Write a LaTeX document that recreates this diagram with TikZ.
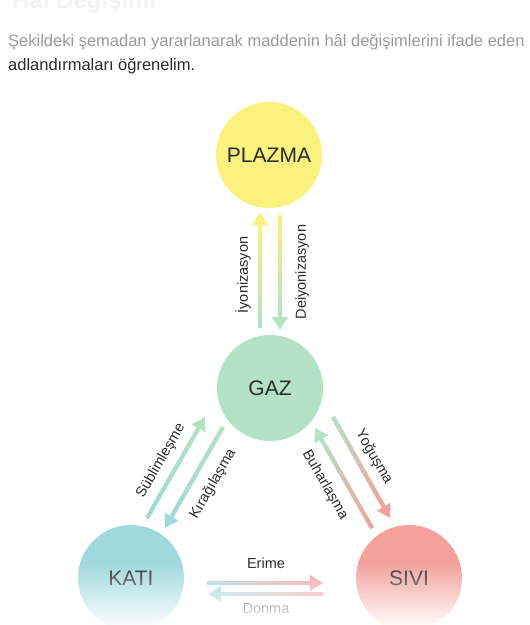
\documentclass[tikz,border=0pt]{standalone}
\usepackage{fontspec}
\setmainfont{Liberation Sans}
\usetikzlibrary{arrows.meta,calc,fadings}
\definecolor{cplz}{HTML}{FAF27C}
\definecolor{cgaz}{HTML}{B3E2C5}
\definecolor{ckat}{HTML}{9FD9DC}
\definecolor{csiv}{HTML}{F4A19B}
\definecolor{txt}{HTML}{2B2B2B}
\definecolor{lightg}{HTML}{9A9A9A}
\definecolor{titleg}{HTML}{F3F3F3}
\tikzfading[name=botfade, top color=transparent!100, bottom color=transparent!0]
\tikzset{
  state/.style={circle, inner sep=0pt, minimum size=106pt, text=txt,
    font=\fontsize{21}{24}\selectfont},
  lbl/.style={inner sep=0pt, text=txt, font=\fontsize{14.5}{16}\selectfont},
  para/.style={inner sep=0pt, anchor=base west, font=\fontsize{16.5}{24}\selectfont}
}
\newcommand\gradarrow[4]{%
  \draw[line width=4pt, #4, -{Triangle[length=13pt,width=15pt]}] (#1) -- (#2);
  \coordinate (gabase) at ($(#2)!13pt!(#1)$);
  \foreach \k in {0,...,29}{%
    \pgfmathsetmacro\ta{\k/30}%
    \pgfmathsetmacro\tb{min(1,(\k+1.4)/30)}%
    \pgfmathsetmacro\pp{100*(\k+0.5)/30}%
    \draw[line width=4pt, color=#4!\pp!#3] ($(#1)!\ta!(gabase)$) -- ($(#1)!\tb!(gabase)$);
  }%
}
\begin{document}
\begin{tikzpicture}[x=1pt,y=-1pt]
\useasboundingbox (0,0) rectangle (530,625);
\fill[white] (0,0) rectangle (530,625);
% texts
\node[para, font=\bfseries\fontsize{24}{28}\selectfont, text=titleg] (title) at (12,8) {Hâl Değişimi};
\node[para, text=lightg] (p1) at (8,46) {Şekildeki şemadan yararlanarak maddenin hâl değişimlerini ifade eden};
\node[para, text=txt] (p2) at (8,70) {adlandırmaları öğrenelim.};
% states
\node[state, fill=cplz] (plazma) at (269,155) {PLAZMA};
\node[state, fill=cgaz] (gaz) at (270,388) {GAZ};
\node[state, fill=ckat] (kati) at (131,578) {KATI};
\node[state, fill=csiv] (sivi) at (409,578) {SIVI};
% arrow end points
\coordinate (iyA) at (260,328); \coordinate (iyB) at (260,212);
\coordinate (deA) at (280,215); \coordinate (deB) at (280,330);
\coordinate (suA) at (147,518); \coordinate (suB) at (205,417);
\coordinate (kiA) at (223,427); \coordinate (kiB) at (165,528);
\coordinate (buA) at (372,528); \coordinate (buB) at (315,428);
\coordinate (yoA) at (333,417); \coordinate (yoB) at (390,518);
\coordinate (erA) at (207,583); \coordinate (erB) at (323,583);
\coordinate (doA) at (323,594); \coordinate (doB) at (208,594);
\gradarrow{iyA}{iyB}{cgaz}{cplz}
\gradarrow{deA}{deB}{cplz}{cgaz}
\gradarrow{suA}{suB}{ckat}{cgaz}
\gradarrow{kiA}{kiB}{cgaz}{ckat}
\gradarrow{buA}{buB}{csiv}{cgaz}
\gradarrow{yoA}{yoB}{cgaz}{csiv}
\gradarrow{erA}{erB}{ckat}{csiv}
\gradarrow{doA}{doB}{csiv}{ckat}
% labels
\node[lbl, rotate=90] (liy) at (243,275) {İyonizasyon};
\node[lbl, rotate=90] (lde) at (302,272) {Deiyonizasyon};
\node[lbl, rotate=60] (lsu) at (161,461) {Süblimleşme};
\node[lbl, rotate=60] (lki) at (213,484) {Kırağılaşma};
\node[lbl, rotate=-60] (lyo) at (374,457) {Yoğuşma};
\node[lbl, rotate=-60] (lbu) at (325,485) {Buharlaşma};
\node[lbl] (ler) at (266,563) {Erime};
\node[lbl] (ldo) at (266,609) {Donma};
% bottom fade
\fill[white, path fading=botfade] (0,562) rectangle (530,628);
\end{tikzpicture}
\end{document}
